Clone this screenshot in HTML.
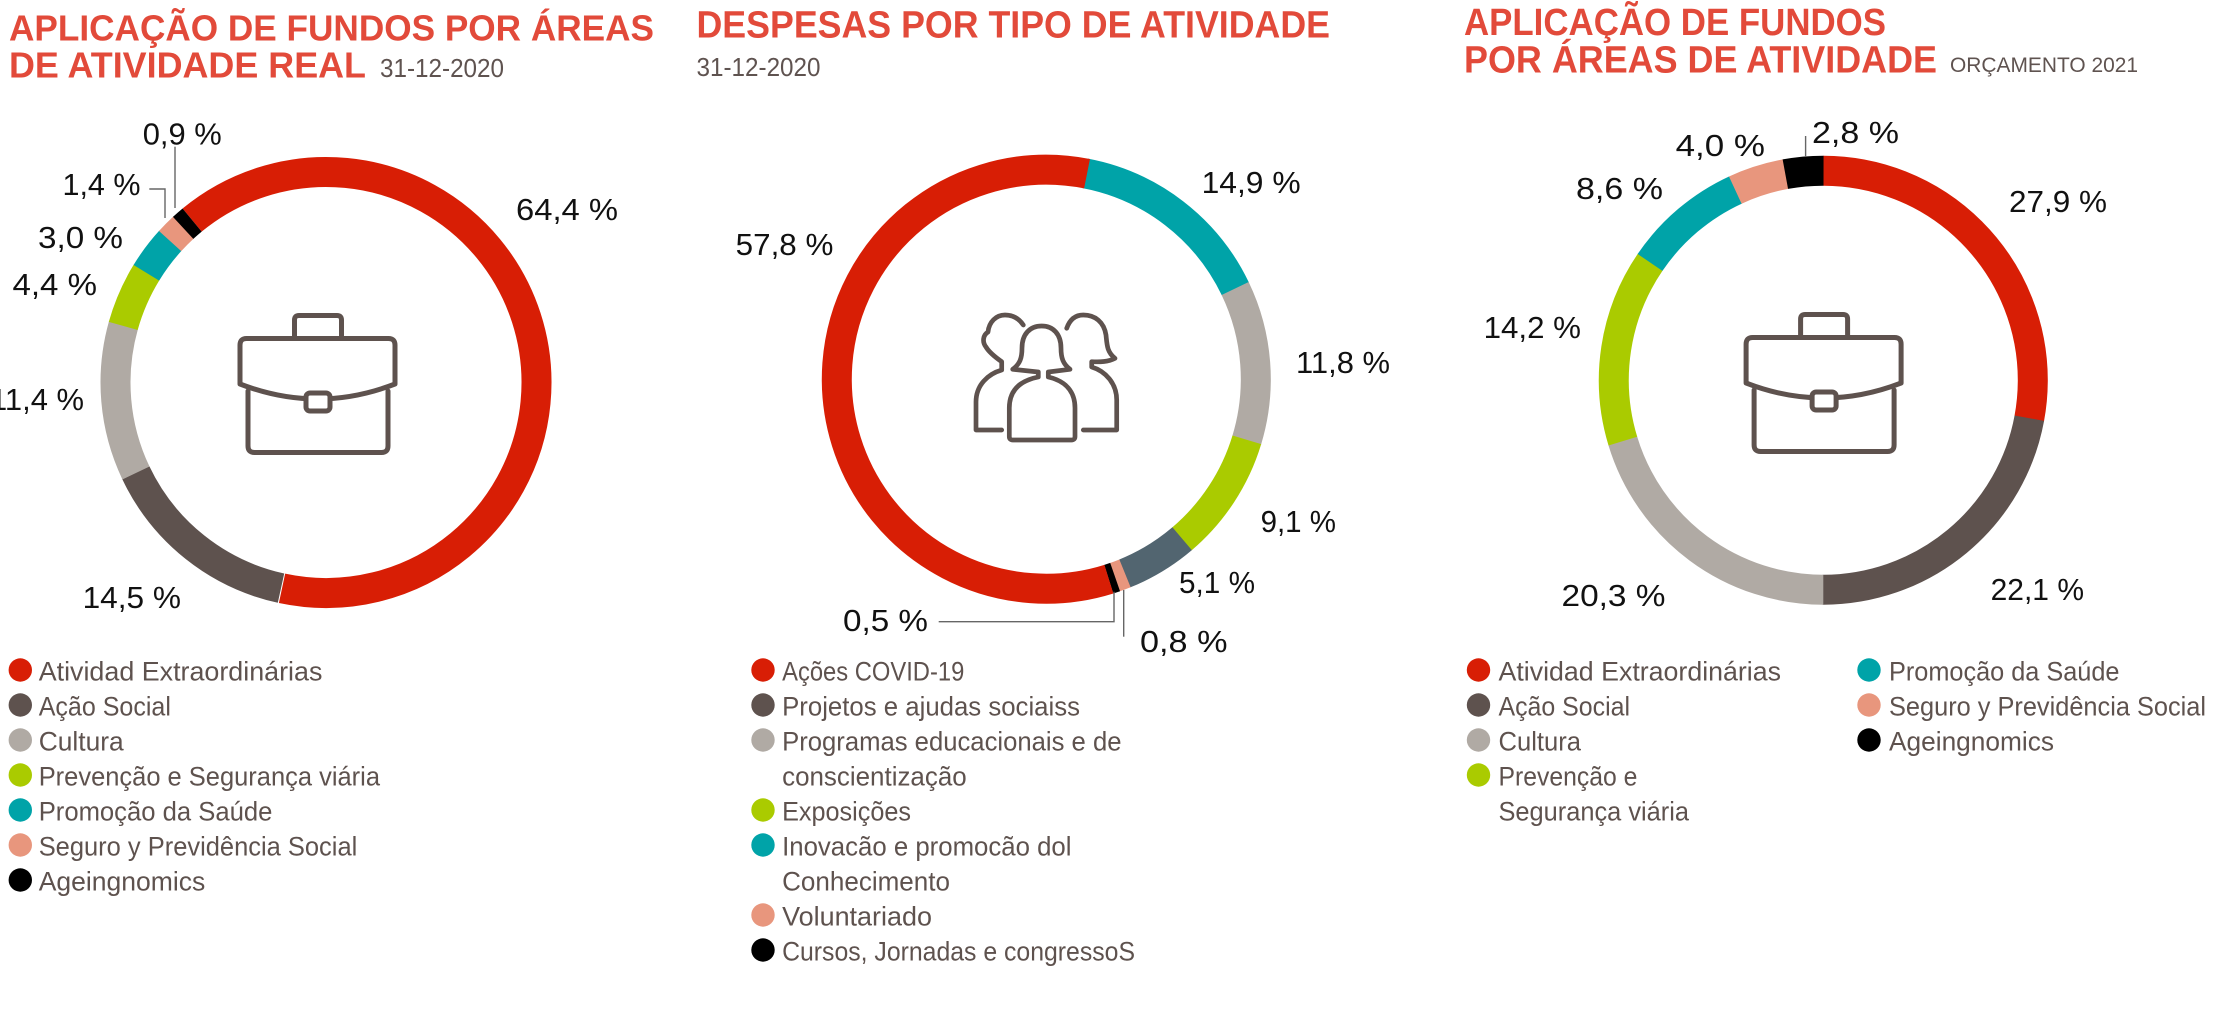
<!DOCTYPE html>
<html>
<head>
<meta charset="utf-8">
<style>
html,body{margin:0;padding:0;background:#fff;}
svg{display:block;}
.t{font-family:"Liberation Sans",Arial,sans-serif;font-weight:bold;fill:#e24a3a;}
.d{font-family:"Liberation Sans",Arial,sans-serif;fill:#5f5350;}
.l{font-family:"Liberation Sans",Arial,sans-serif;font-size:31px;fill:#111;}
.g{font-family:"Liberation Sans",Arial,sans-serif;font-size:27px;fill:#5e524e;}
.seg{fill:none;stroke-width:30;}
.ic{fill:none;stroke:#5e524e;stroke-width:5;stroke-linejoin:round;stroke-linecap:round;}
.ld{fill:none;stroke:#666;stroke-width:1.4;}
</style>
</head>
<body>
<svg width="2218" height="1016" viewBox="0 0 2218 1016" xmlns="http://www.w3.org/2000/svg">
<rect width="2218" height="1016" fill="#fff"/>

<!-- Titles -->
<text class="t" x="9" y="40.7" font-size="36.5" textLength="645" lengthAdjust="spacingAndGlyphs">APLICAÇÃO DE FUNDOS POR ÁREAS</text>
<text class="t" x="9" y="77.3" font-size="36.5" textLength="357" lengthAdjust="spacingAndGlyphs">DE ATIVIDADE REAL</text>
<text class="d" x="380" y="77" font-size="26" textLength="124" lengthAdjust="spacingAndGlyphs">31-12-2020</text>

<text class="t" x="696.5" y="37.3" font-size="38" textLength="633.5" lengthAdjust="spacingAndGlyphs">DESPESAS POR TIPO DE ATIVIDADE</text>
<text class="d" x="696.5" y="76" font-size="26" textLength="124" lengthAdjust="spacingAndGlyphs">31-12-2020</text>

<text class="t" x="1464" y="35" font-size="38" textLength="422" lengthAdjust="spacingAndGlyphs">APLICAÇÃO DE FUNDOS</text>
<text class="t" x="1464" y="72.3" font-size="38" textLength="473" lengthAdjust="spacingAndGlyphs">POR ÁREAS DE ATIVIDADE</text>
<text class="d" x="1950" y="72" font-size="21" fill="#6b6360" textLength="188" lengthAdjust="spacingAndGlyphs">ORÇAMENTO 2021</text>

<!-- Donut 1 center (326,382.5) -->
<g>
<circle class="seg" cx="326" cy="382.5" r="210.5" stroke="#d81e05" stroke-dasharray="850.5 3000" transform="rotate(230.5 326 382.5)"/>
<circle class="seg" cx="326" cy="382.5" r="210.5" stroke="#5e524e" stroke-dasharray="192 3000" transform="rotate(102.34 326 382.5)"/>
<circle class="seg" cx="326" cy="382.5" r="210.5" stroke="#b0aaa4" stroke-dasharray="151.2 3000" transform="rotate(154.54 326 382.5)"/>
<circle class="seg" cx="326" cy="382.5" r="210.5" stroke="#aacb00" stroke-dasharray="58.6 3000" transform="rotate(195.58 326 382.5)"/>
<circle class="seg" cx="326" cy="382.5" r="210.5" stroke="#00a3a8" stroke-dasharray="40.2 3000" transform="rotate(211.42 326 382.5)"/>
<circle class="seg" cx="326" cy="382.5" r="210.5" stroke="#e8967d" stroke-dasharray="19 3000" transform="rotate(222.22 326 382.5)"/>
<circle class="seg" cx="326" cy="382.5" r="210.5" stroke="#000" stroke-dasharray="12 3000" transform="rotate(227.26 326 382.5)"/>
</g>
<!-- Briefcase 1 -->
<g transform="translate(237.5 336)">
<path class="ic" d="M57,2.5 V-16 Q57,-20.5 61.5,-20.5 H99.5 Q104,-20.5 104,-16 V2.5"/>
<path class="ic" d="M2.5,9 Q2.5,2.5 9,2.5 H151 Q157.5,2.5 157.5,9 V48 Q80,78 2.5,48 Z"/>
<path class="ic" d="M10.5,55 V110 Q10.5,116.5 17,116.5 H144 Q150.5,116.5 150.5,110 V55"/>
<rect class="ic" x="68.5" y="57" width="24" height="18" rx="4" style="fill:#fff"/>
</g>
<!-- Labels donut 1 -->
<text class="l" x="516" y="220" textLength="102" lengthAdjust="spacingAndGlyphs">64,4 %</text>
<text class="l" x="142.7" y="144.3" textLength="79" lengthAdjust="spacingAndGlyphs">0,9 %</text>
<text class="l" x="62.5" y="195" textLength="78" lengthAdjust="spacingAndGlyphs">1,4 %</text>
<text class="l" x="38" y="248" textLength="85" lengthAdjust="spacingAndGlyphs">3,0 %</text>
<text class="l" x="12.5" y="295" textLength="84.5" lengthAdjust="spacingAndGlyphs">4,4 %</text>
<text class="l" x="-10" y="410" textLength="94" lengthAdjust="spacingAndGlyphs">11,4 %</text>
<text class="l" x="82.6" y="608" textLength="98.4" lengthAdjust="spacingAndGlyphs">14,5 %</text>
<path class="ld" d="M175,146.7 V208"/>
<path class="ld" d="M149.3,189 H165 V218"/>

<!-- Donut 2 center (1046.3,379.2) -->
<g>
<circle class="seg" cx="1046.3" cy="379.2" r="209.5" stroke="#00a3a8" stroke-dasharray="196.6 3000" transform="rotate(-79.3 1046.3 379.2)"/>
<circle class="seg" cx="1046.3" cy="379.2" r="209.5" stroke="#b0aaa4" stroke-dasharray="155.7 3000" transform="rotate(-25.66 1046.3 379.2)"/>
<circle class="seg" cx="1046.3" cy="379.2" r="209.5" stroke="#aacb00" stroke-dasharray="120.3 3000" transform="rotate(16.82 1046.3 379.2)"/>
<circle class="seg" cx="1046.3" cy="379.2" r="209.5" stroke="#526570" stroke-dasharray="67.5 3000" transform="rotate(49.58 1046.3 379.2)"/>
<circle class="seg" cx="1046.3" cy="379.2" r="209.5" stroke="#e8967d" stroke-dasharray="10.8 3000" transform="rotate(67.94 1046.3 379.2)"/>
<circle class="seg" cx="1046.3" cy="379.2" r="209.5" stroke="#000" stroke-dasharray="6.8 3000" transform="rotate(70.82 1046.3 379.2)"/>
<circle class="seg" cx="1046.3" cy="379.2" r="209.5" stroke="#d81e05" stroke-dasharray="762.5 3000" transform="rotate(72.62 1046.3 379.2)"/>
</g>
<!-- People icon -->
<g>
<path class="ic" style="stroke-width:4.7" d="M1038.3,372 L1012.7,369.3 C1020,364 1022,358 1022,348 C1022,334 1030,326 1041.7,326 C1053,326 1061,334 1061,348 C1061,358 1063,364 1070,369.3 L1048.3,372 V377 C1066,381 1075,392 1075,408 V436.5 Q1075,440 1071.5,440 H1012.8 Q1009.3,440 1009.3,436.5 V408 C1009.3,392 1018,381 1038.3,377 Z"/>
<path class="ic" style="stroke-width:4.7" d="M1023.3,325 C1018,317 1011,315 1005,315 C996,315 989,322 988,332 C983,335 982,342 986,347 C989,352 995,357 1001.7,361.7 V370 C988,374 976,385 976,402 V430 H1001.7"/>
<path class="ic" style="stroke-width:4.7" d="M1066.7,328.3 C1070,319 1076,315 1083.3,315 C1095,315 1104,322 1106,335 C1107,345 1107,352 1115,358.3 C1108,362 1100,362 1091.7,361.7 V367 C1105,371 1116.7,383 1116.7,400 V430 H1083.3"/>
</g>
<!-- Labels donut 2 -->
<text class="l" x="1201.6" y="193" textLength="99" lengthAdjust="spacingAndGlyphs">14,9 %</text>
<text class="l" x="735.7" y="255" textLength="97.7" lengthAdjust="spacingAndGlyphs">57,8 %</text>
<text class="l" x="1296" y="373" textLength="94" lengthAdjust="spacingAndGlyphs">11,8 %</text>
<text class="l" x="1260.6" y="532" textLength="75.4" lengthAdjust="spacingAndGlyphs">9,1 %</text>
<text class="l" x="1179" y="593" textLength="76" lengthAdjust="spacingAndGlyphs">5,1 %</text>
<text class="l" x="843" y="631" textLength="85" lengthAdjust="spacingAndGlyphs">0,5 %</text>
<text class="l" x="1140" y="652" textLength="87.5" lengthAdjust="spacingAndGlyphs">0,8 %</text>
<path class="ld" d="M938.7,621.7 H1114 V591.7"/>
<path class="ld" d="M1123.7,590 V636.7"/>

<!-- Donut 3 center (1823.3,380.2) -->
<g>
<circle class="seg" cx="1823.3" cy="380.2" r="209.5" stroke="#d81e05" stroke-dasharray="368 3000" transform="rotate(-90 1823.3 380.2)"/>
<circle class="seg" cx="1823.3" cy="380.2" r="209.5" stroke="#5e524e" stroke-dasharray="291.5 3000" transform="rotate(10.44 1823.3 380.2)"/>
<circle class="seg" cx="1823.3" cy="380.2" r="209.5" stroke="#b0aaa4" stroke-dasharray="267.5 3000" transform="rotate(90 1823.3 380.2)"/>
<circle class="seg" cx="1823.3" cy="380.2" r="209.5" stroke="#aacb00" stroke-dasharray="187.3 3000" transform="rotate(163.08 1823.3 380.2)"/>
<circle class="seg" cx="1823.3" cy="380.2" r="209.5" stroke="#00a3a8" stroke-dasharray="113.5 3000" transform="rotate(214.2 1823.3 380.2)"/>
<circle class="seg" cx="1823.3" cy="380.2" r="209.5" stroke="#e8967d" stroke-dasharray="53 3000" transform="rotate(245.16 1823.3 380.2)"/>
<circle class="seg" cx="1823.3" cy="380.2" r="209.5" stroke="#000" stroke-dasharray="38.4 3000" transform="rotate(259.56 1823.3 380.2)"/>
</g>
<!-- Briefcase 3 -->
<g transform="translate(1743.6 335)">
<path class="ic" d="M57,2.5 V-16 Q57,-20.5 61.5,-20.5 H99.5 Q104,-20.5 104,-16 V2.5"/>
<path class="ic" d="M2.5,9 Q2.5,2.5 9,2.5 H151 Q157.5,2.5 157.5,9 V48 Q80,78 2.5,48 Z"/>
<path class="ic" d="M10.5,55 V110 Q10.5,116.5 17,116.5 H144 Q150.5,116.5 150.5,110 V55"/>
<rect class="ic" x="68.5" y="57" width="24" height="18" rx="4" style="fill:#fff"/>
</g>
<!-- Labels donut 3 -->
<text class="l" x="1812" y="143" textLength="87" lengthAdjust="spacingAndGlyphs">2,8 %</text>
<text class="l" x="1675.6" y="156" textLength="89.4" lengthAdjust="spacingAndGlyphs">4,0 %</text>
<text class="l" x="1576" y="199" textLength="87" lengthAdjust="spacingAndGlyphs">8,6 %</text>
<text class="l" x="2009" y="212" textLength="98" lengthAdjust="spacingAndGlyphs">27,9 %</text>
<text class="l" x="1483.6" y="338" textLength="97.4" lengthAdjust="spacingAndGlyphs">14,2 %</text>
<text class="l" x="1561.5" y="606" textLength="104" lengthAdjust="spacingAndGlyphs">20,3 %</text>
<text class="l" x="1990.6" y="600" textLength="93.4" lengthAdjust="spacingAndGlyphs">22,1 %</text>
<path class="ld" d="M1805.6,136 V157"/>

<!-- Legend 1 -->
<g>
<circle cx="20.3" cy="670" r="11.7" fill="#d81e05"/>
<circle cx="20.3" cy="705" r="11.7" fill="#5e524e"/>
<circle cx="20.3" cy="740" r="11.7" fill="#b0aaa4"/>
<circle cx="20.3" cy="775" r="11.7" fill="#aacb00"/>
<circle cx="20.3" cy="810" r="11.7" fill="#00a3a8"/>
<circle cx="20.3" cy="845" r="11.7" fill="#e8967d"/>
<circle cx="20.3" cy="880" r="11.7" fill="#000"/>
<text class="g" x="38.7" y="680.7" textLength="283.7" lengthAdjust="spacingAndGlyphs">Atividad Extraordinárias</text>
<text class="g" x="38.7" y="715.7" textLength="132.2" lengthAdjust="spacingAndGlyphs">Ação Social</text>
<text class="g" x="38.7" y="750.7" textLength="85" lengthAdjust="spacingAndGlyphs">Cultura</text>
<text class="g" x="38.7" y="785.7" textLength="341.3" lengthAdjust="spacingAndGlyphs">Prevenção e Segurança viária</text>
<text class="g" x="38.7" y="820.7" textLength="233.7" lengthAdjust="spacingAndGlyphs">Promoção da Saúde</text>
<text class="g" x="38.7" y="855.7" textLength="318.6" lengthAdjust="spacingAndGlyphs">Seguro y Previdência Social</text>
<text class="g" x="38.7" y="890.7" textLength="166.6" lengthAdjust="spacingAndGlyphs">Ageingnomics</text>
</g>

<!-- Legend 2 -->
<g>
<circle cx="763" cy="670" r="11.7" fill="#d81e05"/>
<circle cx="763" cy="705" r="11.7" fill="#5e524e"/>
<circle cx="763" cy="740" r="11.7" fill="#b0aaa4"/>
<circle cx="763" cy="810" r="11.7" fill="#aacb00"/>
<circle cx="763" cy="845" r="11.7" fill="#00a3a8"/>
<circle cx="763" cy="915" r="11.7" fill="#e8967d"/>
<circle cx="763" cy="950" r="11.7" fill="#000"/>
<text class="g" x="782.1" y="680.7" textLength="182.2" lengthAdjust="spacingAndGlyphs">Ações COVID-19</text>
<text class="g" x="782.1" y="715.7" textLength="297.9" lengthAdjust="spacingAndGlyphs">Projetos e ajudas sociaiss</text>
<text class="g" x="782.1" y="750.7" textLength="339.4" lengthAdjust="spacingAndGlyphs">Programas educacionais e de</text>
<text class="g" x="782.1" y="785.7" textLength="184.6" lengthAdjust="spacingAndGlyphs">conscientização</text>
<text class="g" x="782.1" y="820.7" textLength="128.9" lengthAdjust="spacingAndGlyphs">Exposições</text>
<text class="g" x="782.1" y="855.7" textLength="289.4" lengthAdjust="spacingAndGlyphs">Inovacão e promocão dol</text>
<text class="g" x="782.1" y="890.7" textLength="167.9" lengthAdjust="spacingAndGlyphs">Conhecimento</text>
<text class="g" x="782.1" y="925.7" textLength="149.9" lengthAdjust="spacingAndGlyphs">Voluntariado</text>
<text class="g" x="782.1" y="960.7" textLength="352.9" lengthAdjust="spacingAndGlyphs">Cursos, Jornadas e congressoS</text>
</g>

<!-- Legend 3 -->
<g>
<circle cx="1478.5" cy="670" r="11.7" fill="#d81e05"/>
<circle cx="1478.5" cy="705" r="11.7" fill="#5e524e"/>
<circle cx="1478.5" cy="740" r="11.7" fill="#b0aaa4"/>
<circle cx="1478.5" cy="775" r="11.7" fill="#aacb00"/>
<circle cx="1869" cy="670" r="11.7" fill="#00a3a8"/>
<circle cx="1869" cy="705" r="11.7" fill="#e8967d"/>
<circle cx="1869" cy="740" r="11.7" fill="#000"/>
<text class="g" x="1498.5" y="680.7" textLength="282.5" lengthAdjust="spacingAndGlyphs">Atividad Extraordinárias</text>
<text class="g" x="1498.5" y="715.7" textLength="131.5" lengthAdjust="spacingAndGlyphs">Ação Social</text>
<text class="g" x="1498.5" y="750.7" textLength="82.5" lengthAdjust="spacingAndGlyphs">Cultura</text>
<text class="g" x="1498.5" y="785.7" textLength="138.9" lengthAdjust="spacingAndGlyphs">Prevenção e</text>
<text class="g" x="1498.5" y="820.7" textLength="190.5" lengthAdjust="spacingAndGlyphs">Segurança viária</text>
<text class="g" x="1889" y="680.7" textLength="230.5" lengthAdjust="spacingAndGlyphs">Promoção da Saúde</text>
<text class="g" x="1889" y="715.7" textLength="317" lengthAdjust="spacingAndGlyphs">Seguro y Previdência Social</text>
<text class="g" x="1889" y="750.7" textLength="165" lengthAdjust="spacingAndGlyphs">Ageingnomics</text>
</g>
</svg>
</body>
</html>
